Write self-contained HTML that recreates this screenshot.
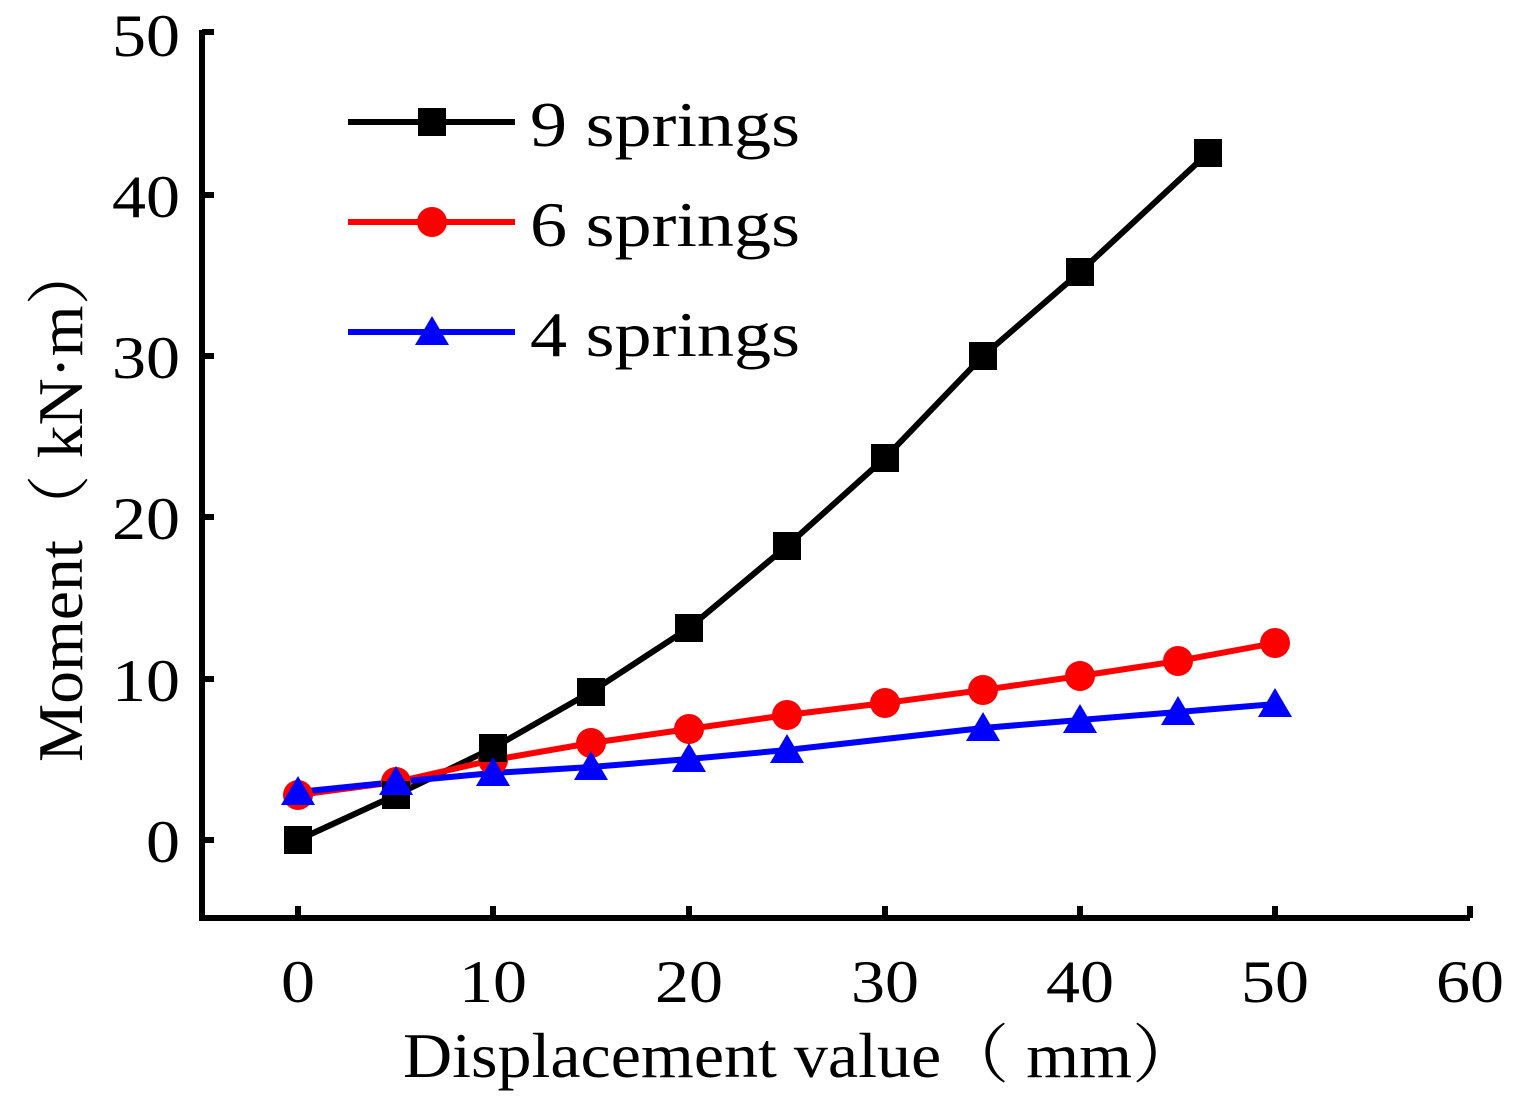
<!DOCTYPE html>
<html><head><style>body{margin:0;background:#fff}svg{display:block}text{font-family:"Liberation Serif","Noto Serif CJK SC",serif;fill:#000}</style></head><body>
<svg width="1525" height="1116" viewBox="0 0 1525 1116">
<g stroke="#000" stroke-width="6" fill="none">
<path d="M202,30 V918 H1470"/>
<path d="M202,32h12M202,195h12M202,356h12M202,517h12M202,679h12M202,840h12"/>
<path d="M298,918v-12M493,918v-12M689,918v-12M885,918v-12M1080,918v-12M1275,918v-12M1470,918v-12"/>
</g>
<g font-size="60" text-anchor="end" lengthAdjust="spacingAndGlyphs">
<text x="180" y="56" textLength="68" lengthAdjust="spacingAndGlyphs">50</text><text x="180" y="217" textLength="68" lengthAdjust="spacingAndGlyphs">40</text><text x="180" y="378" textLength="68" lengthAdjust="spacingAndGlyphs">30</text><text x="180" y="539" textLength="68" lengthAdjust="spacingAndGlyphs">20</text><text x="180" y="701" textLength="68" lengthAdjust="spacingAndGlyphs">10</text><text x="180" y="862" textLength="34" lengthAdjust="spacingAndGlyphs">0</text>
</g>
<g font-size="60" text-anchor="middle">
<text x="298" y="1002" textLength="34" lengthAdjust="spacingAndGlyphs">0</text><text x="493" y="1002" textLength="68" lengthAdjust="spacingAndGlyphs">10</text><text x="689" y="1002" textLength="68" lengthAdjust="spacingAndGlyphs">20</text><text x="885" y="1002" textLength="68" lengthAdjust="spacingAndGlyphs">30</text><text x="1080" y="1002" textLength="68" lengthAdjust="spacingAndGlyphs">40</text><text x="1275" y="1002" textLength="68" lengthAdjust="spacingAndGlyphs">50</text><text x="1470" y="1002" textLength="68" lengthAdjust="spacingAndGlyphs">60</text>
</g>
<text x="403" y="1077" font-size="64" textLength="797" lengthAdjust="spacingAndGlyphs">Displacement value（ mm）</text>
<text transform="translate(82,762) rotate(-90)" font-size="64" textLength="522" lengthAdjust="spacingAndGlyphs">Moment（ kN·m）</text>
<polyline fill="none" stroke="#000" stroke-width="6" points="298,840 396,795 493,748 591,692 689,628 787,546 885,458 983,356 1080,272 1208,153"/>
<polyline fill="none" stroke="#f00" stroke-width="6" points="298,795 396,782 493,760 591,743 689,729 787,715 885,703 983,690 1080,676 1178,661 1275,643"/>
<polyline fill="none" stroke="#00f" stroke-width="6" points="298,792 396,782 493,773 591,767 689,759 787,750 983,728 1080,720 1178,712 1275,704"/>
<g fill="#f00"><circle cx="298" cy="795" r="15"/><circle cx="396" cy="782" r="15"/><circle cx="493" cy="760" r="15"/><circle cx="591" cy="743" r="15"/><circle cx="689" cy="729" r="15"/><circle cx="787" cy="715" r="15"/><circle cx="885" cy="703" r="15"/><circle cx="983" cy="690" r="15"/><circle cx="1080" cy="676" r="15"/><circle cx="1178" cy="661" r="15"/><circle cx="1275" cy="643" r="15"/></g>
<g fill="#000"><rect x="284" y="826" width="28" height="28"/><rect x="382" y="781" width="28" height="28"/><rect x="479" y="734" width="28" height="28"/><rect x="577" y="678" width="28" height="28"/><rect x="675" y="614" width="28" height="28"/><rect x="773" y="532" width="28" height="28"/><rect x="871" y="444" width="28" height="28"/><rect x="969" y="342" width="28" height="28"/><rect x="1066" y="258" width="28" height="28"/><rect x="1194" y="139" width="28" height="28"/></g>
<g fill="#00f">
<path d="M298,776l17,29h-34z"/><path d="M396,766l17,29h-34z"/><path d="M493,757l17,29h-34z"/><path d="M591,751l17,29h-34z"/><path d="M689,743l17,29h-34z"/><path d="M787,734l17,29h-34z"/><path d="M983,712l17,29h-34z"/><path d="M1080,704l17,29h-34z"/><path d="M1178,696l17,29h-34z"/><path d="M1275,688l17,29h-34z"/>
</g>
<line x1="348" y1="122" x2="515" y2="122" stroke="#000" stroke-width="6"/><rect x="418" y="108" width="28" height="28"/>
<line x1="348" y1="222" x2="515" y2="222" stroke="#f00" stroke-width="6"/><circle cx="432" cy="222" r="15" fill="#f00"/>
<line x1="348" y1="332" x2="515" y2="332" stroke="#00f" stroke-width="6"/><path d="M432,316l17,29h-34z" fill="#00f"/>
<g font-size="64"><text x="530" y="146" textLength="270" lengthAdjust="spacingAndGlyphs">9 springs</text><text x="530" y="246" textLength="270" lengthAdjust="spacingAndGlyphs">6 springs</text><text x="530" y="356" textLength="270" lengthAdjust="spacingAndGlyphs">4 springs</text></g>
</svg>
</body></html>
